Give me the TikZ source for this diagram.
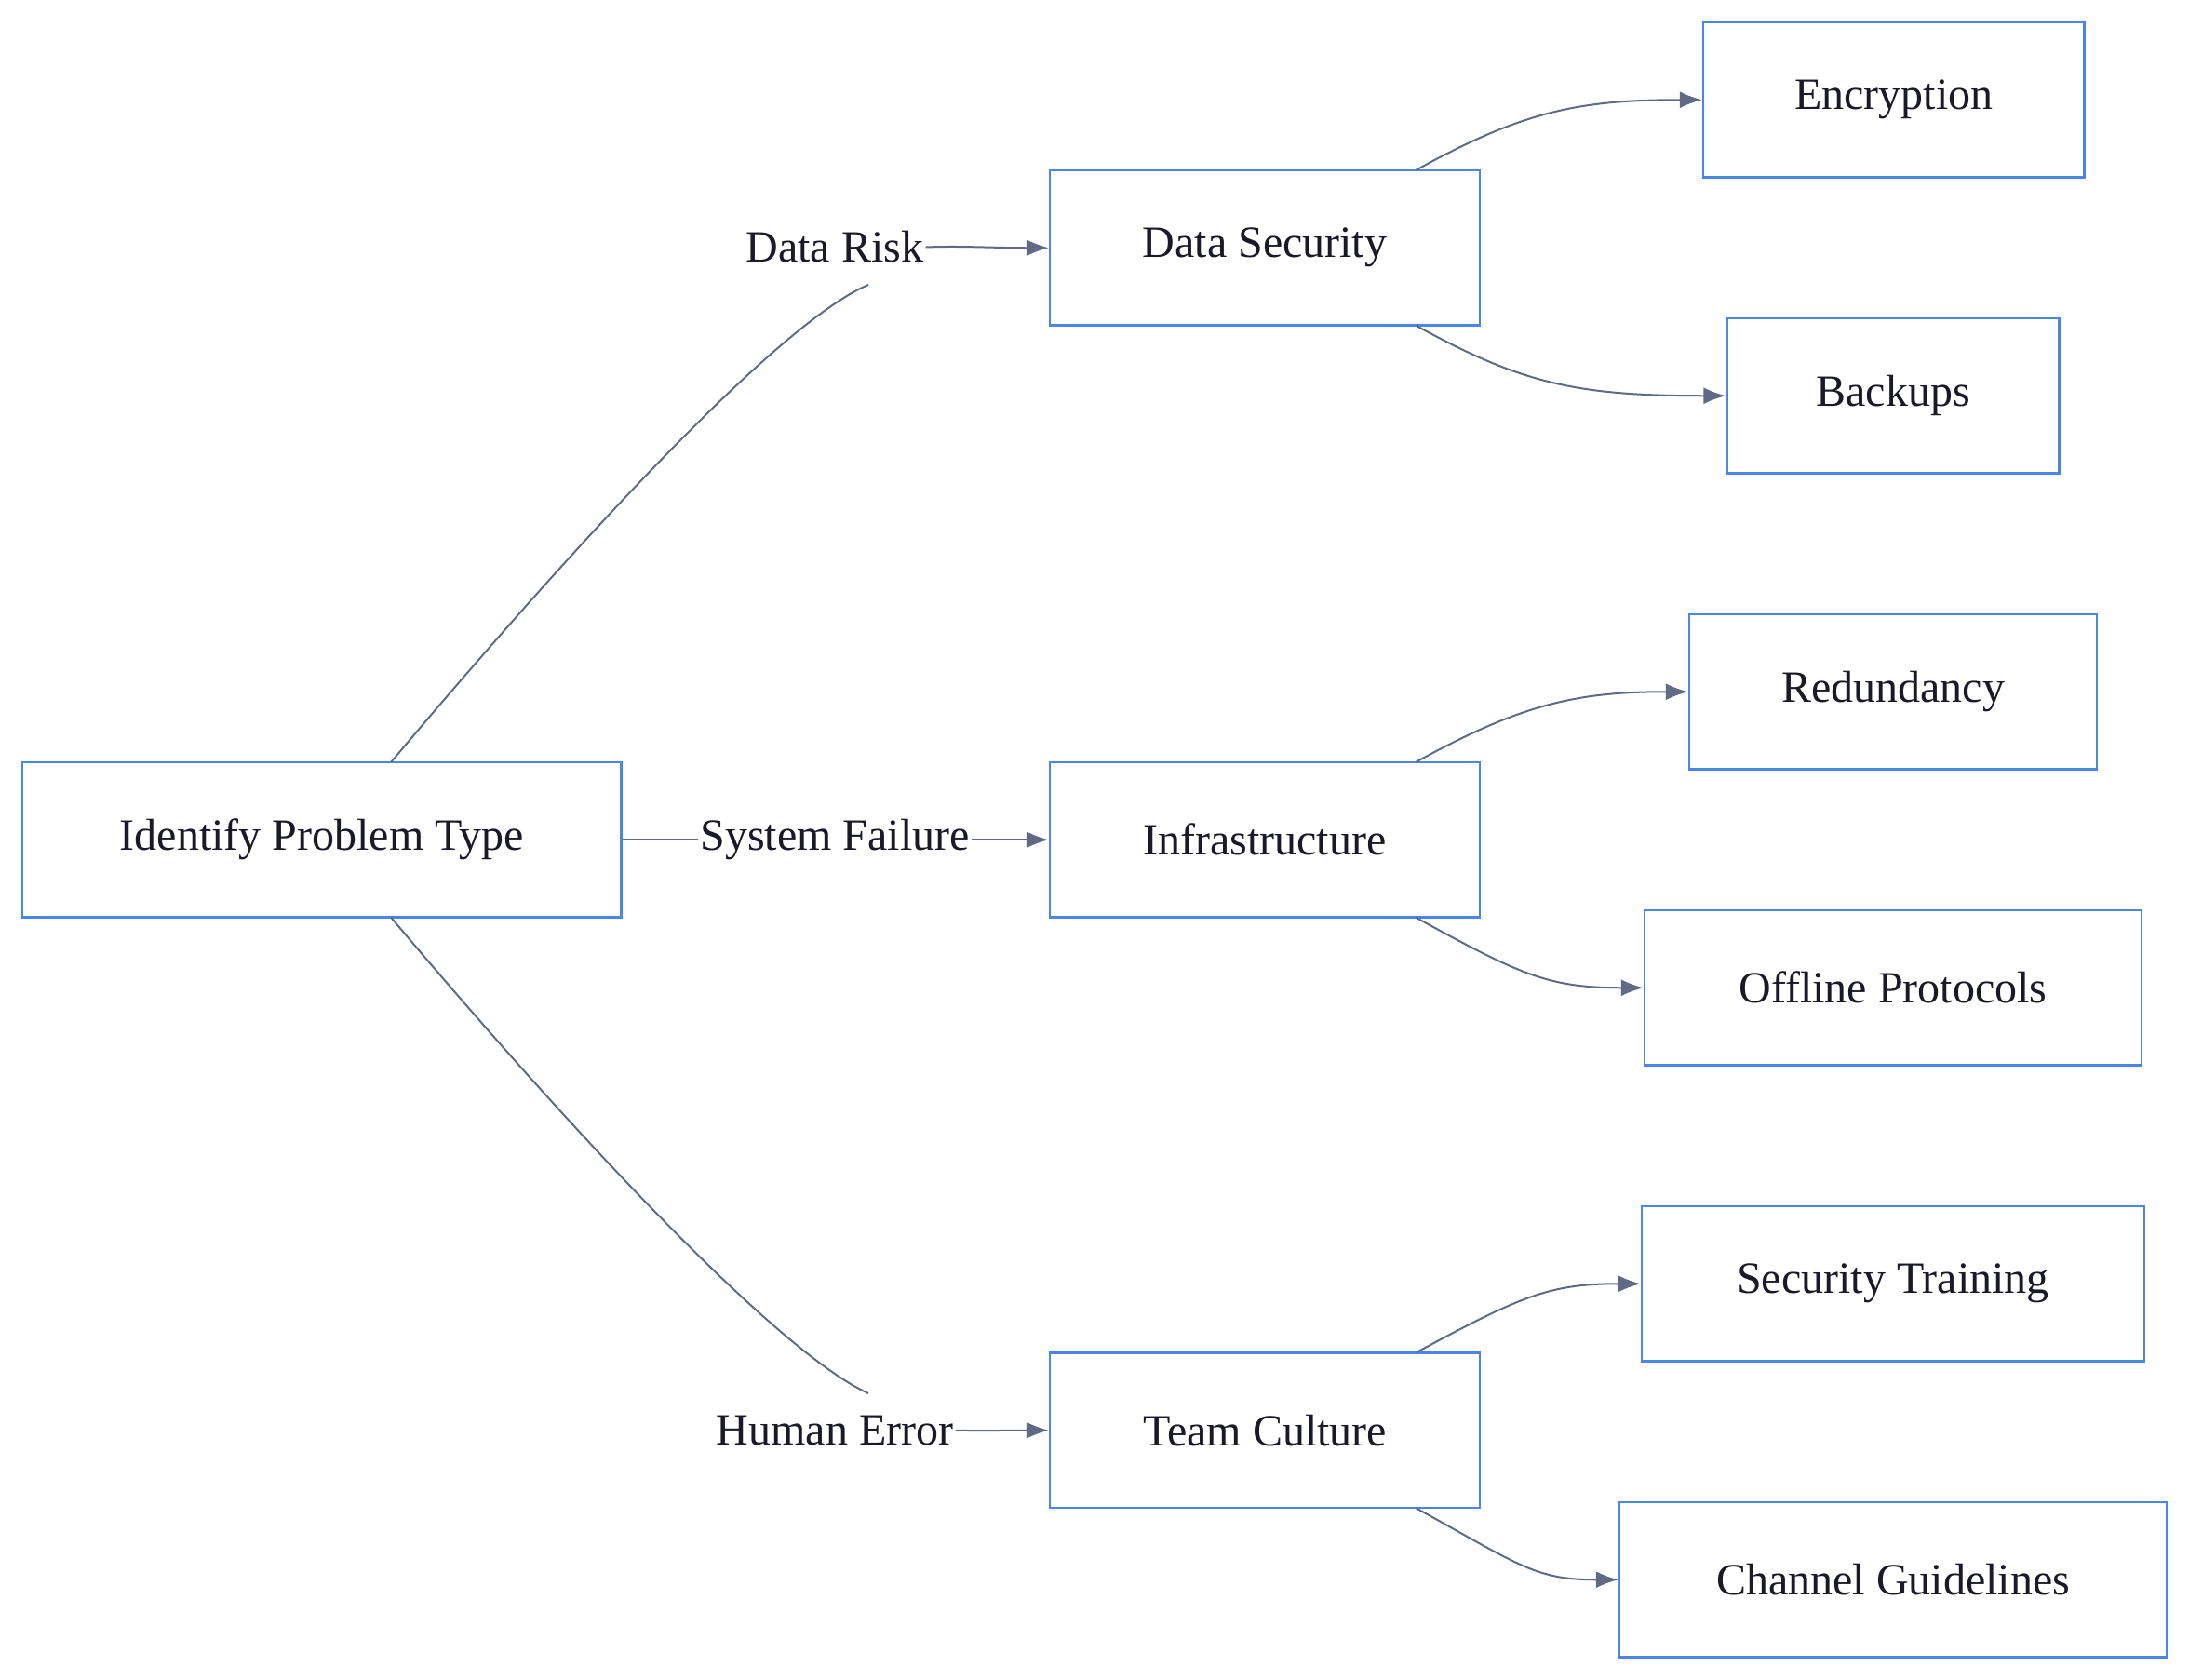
\documentclass[tikz,border=0pt]{standalone}
\usepackage{fontspec}
\setmainfont{Liberation Serif}
\usepackage{xcolor}
\usetikzlibrary{arrows.meta}
\definecolor{boxblue}{RGB}{74,134,232}
\definecolor{linkgray}{RGB}{95,107,133}
\definecolor{txt}{RGB}{25,25,40}
\begin{document}
\begin{tikzpicture}[x=0.75pt,y=0.75pt,yscale=-1,xscale=1,
    box/.style={draw=boxblue,line width=1.1pt,minimum height=83.25pt,text=txt,font=\fontsize{24}{28}\selectfont},
    lbl/.style={text=txt,font=\fontsize{24}{28}\selectfont,inner sep=1pt},
    link/.style={draw=linkgray,line width=1pt},
    tip/.style={link,-{Latex[length=12pt,width=9pt]}}]
    \useasboundingbox (0,0) rectangle (1568,1203);

    % boxes
    \node[box,minimum width=321.75pt] (ident) at (230.5,601.5) {Identify Problem Type};
    \node[box,minimum width=231pt] (datasec) at (906,177.5) {Data Security};
    \node[box,minimum width=231pt] (infra) at (906,601.5) {Infrastructure};
    \node[box,minimum width=231pt] (team) at (906,1024.5) {Team Culture};
    \node[box,minimum width=204.75pt] (encr) at (1356.5,71.5) {Encryption};
    \node[box,minimum width=178.5pt] (backup) at (1356,283.5) {Backups};
    \node[box,minimum width=219pt] (redund) at (1356,495.5) {Redundancy};
    \node[box,minimum width=267pt] (offline) at (1356,707.5) {Offline Protocols};
    \node[box,minimum width=270pt] (sectrain) at (1356,919.5) {Security Training};
    \node[box,minimum width=294pt] (channel) at (1356,1131.5) {Channel Guidelines};

    % edge labels
    \node[lbl] (risk) at (598,177) {Data Risk};
    \node[lbl] (fail) at (598,601.5) {System Failure};
    \node[lbl] (human) at (598,1024.5) {Human Error};
    \coordinate (riskin) at (622,204);
    \coordinate (humanin) at (622,998);

    % first level
    \draw[link] (280,546) .. controls (420,380) and (560,230) .. (riskin);
    \draw[tip] (risk.east) .. controls (690,176) and (710,177.5) .. (datasec.west);
    \draw[link] (ident.east) -- (fail.west);
    \draw[tip] (fail.east) -- (infra.west);
    \draw[link] (280,657) .. controls (420,823) and (560,970) .. (humanin);
    \draw[tip] (human.east) .. controls (705,1025) and (720,1024.5) .. (team.west);

    % second level
    \draw[tip] (1014,122) .. controls (1090,80) and (1130,71.5) .. (encr.west);
    \draw[tip] (1014,233) .. controls (1090,275) and (1130,283.5) .. (backup.west);
    \draw[tip] (1014,546) .. controls (1090,504) and (1130,495.5) .. (redund.west);
    \draw[tip] (1014,657) .. controls (1090,699) and (1110,707.5) .. (offline.west);
    \draw[tip] (1014,969) .. controls (1090,928) and (1110,919.5) .. (sectrain.west);
    \draw[tip] (1014,1080) .. controls (1090,1122) and (1100,1131.5) .. (channel.west);
\end{tikzpicture}
\end{document}
